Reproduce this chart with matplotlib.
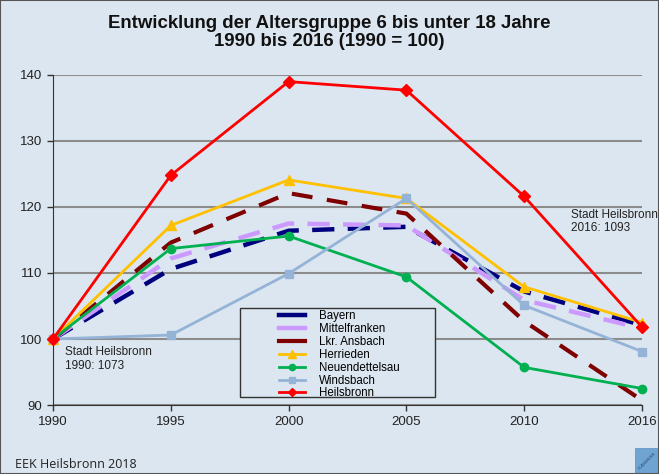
import matplotlib
matplotlib.use("Agg")
import matplotlib.pyplot as plt
from matplotlib.patches import Rectangle
from matplotlib.lines import Line2D
from matplotlib.legend_handler import HandlerLine2D
import numpy as np

years = ["1990", "1995", "2000", "2005", "2010", "2016"]
bayern = [100, 110.6, 116.4, 117.0, 107.2, 102.1]
mittelfranken = [100, 112.2, 117.5, 117.2, 105.9, 101.6]
lkr_ansbach = [100, 114.6, 122.1, 119.0, 102.7, 90.7]
herrieden = [100, 117.2, 124.1, 121.3, 107.9, 102.5]
neuendettelsau = [100, 113.7, 115.6, 109.4, 95.7, 92.5]
windsbach = [100, 100.6, 109.9, 121.3, 105.1, 98.1]
heilsbronn = [100, 124.8, 139.0, 137.7, 121.6, 101.8]
yticks = [90, 100, 110, 120, 130, 140]

BG = "#dce6f0"
FONT = ["Liberation Sans", "DejaVu Sans"]
plt.rcParams["font.family"] = FONT

fig = plt.figure(figsize=(6.59, 4.74), dpi=100, facecolor=BG)
ax = fig.add_axes([53/659, 1-405/474, (642-53)/659, (405-75)/474])
ax.set_facecolor(BG)

x = list(range(len(years)))
series = [
    ("Bayern", bayern, dict(color="#00007f", lw=3.2, ls=(0, (5, 3)))),
    ("Mittelfranken", mittelfranken, dict(color="#cc99ff", lw=3.2, ls=(0, (5, 3)))),
    ("Lkr. Ansbach", lkr_ansbach, dict(color="#7f0000", lw=3.0, ls=(0, (5, 3.5)))),
    ("Herrieden", herrieden, dict(color="#ffc000", lw=2, marker="^", ms=7)),
    ("Neuendettelsau", neuendettelsau, dict(color="#00b050", lw=2, marker="o", ms=6)),
    ("Windsbach", windsbach, dict(color="#95b3d7", lw=2, marker="s", ms=6)),
    ("Heilsbronn", heilsbronn, dict(color="#ff0000", lw=2, marker="D", ms=6)),
]
for name, vals, st in series:
    ax.plot(x, vals, label=name, clip_on=False, zorder=3, **st)

ax.set_xlim(0, 5)
ax.set_ylim(90, 140)
ax.set_yticks(yticks)
ax.set_yticklabels([str(t) for t in yticks], fontsize=9.5, color="#222222")
ax.set_xticks(x)
ax.set_xticklabels(years, fontsize=9.5, color="#222222")
ax.tick_params(axis="both", length=4, color="#333333", width=1)
ax.tick_params(axis="x", pad=4)
ax.grid(axis="y", color="#8c8c8c", lw=1.5, zorder=0)
ax.set_axisbelow(True)
for s in ["top", "right"]:
    ax.spines[s].set_visible(False)
ax.spines["left"].set_color("#333333")
ax.spines["bottom"].set_color("#333333")


class RightHandler(HandlerLine2D):
    def get_xdata(self, legend, xdescent, ydescent, width, height, fontsize):
        xd = np.array([-xdescent + 0.57 * width, -xdescent + width])
        xm = np.array([-xdescent + 0.785 * width])
        return xd, xm


# legend frame
ax.add_patch(Rectangle((0.3175, 0.0242), 0.6486 - 0.3175, 0.2939 - 0.0242,
                       transform=ax.transAxes, facecolor=BG, edgecolor="#333333",
                       lw=1, zorder=4))
handles = []
for name, vals, st in series:
    kw = dict(st)
    if "ls" in kw:
        kw["ls"] = "-"
    if "ms" in kw:
        kw["ms"] = kw["ms"] - 1.5
    handles.append(Line2D([0], [0], label=name, **kw))
leg = ax.legend(handles=handles, loc="upper left", bbox_to_anchor=(0.3243, 0.288),
                frameon=False, fontsize=8.3, handlelength=5.27, labelspacing=0.08,
                borderpad=0, handletextpad=1.2, borderaxespad=0,
                handler_map={Line2D: RightHandler()})
leg.set_zorder(5)

# annotations
ax.text(0.1, 98.9, "Stadt Heilsbronn\n1990: 1073", fontsize=8.5, color="#222222",
        va="top", ha="left", linespacing=1.15)
ax.text(4.4, 119.7, "Stadt Heilsbronn\n2016: 1093", fontsize=8.5, color="#222222",
        va="top", ha="left", linespacing=1.15)

fig.text(0.5, 1-23/474, "Entwicklung der Altersgruppe 6 bis unter 18 Jahre",
         ha="center", va="center", fontsize=13.4, fontweight="bold", color="#111111")
fig.text(0.5, 1-41/474, "1990 bis 2016 (1990 = 100)",
         ha="center", va="center", fontsize=13.4, fontweight="bold", color="#111111")

fig.text(15/659, 1-465/474, "EEK Heilsbronn 2018", ha="left", va="center",
         fontsize=9, family=["Open Sans", "DejaVu Sans"], color="#222222")

# logo
fig.patches.append(Rectangle((635/659, 0), 24/659, 26/474, transform=fig.transFigure,
                             facecolor="#6fa3d2", edgecolor="#5a8cbf", lw=0.5))
fig.text(647/659, 13/474, "PLANWERK", rotation=45, fontsize=3, color="#2a4a6a",
         ha="center", va="center")

# border
fig.patches.append(Rectangle((0, 0), 1, 1, transform=fig.transFigure, fill=False,
                             edgecolor="#555555", lw=1.5))

fig.savefig("out.png", dpi=100, facecolor=BG)
